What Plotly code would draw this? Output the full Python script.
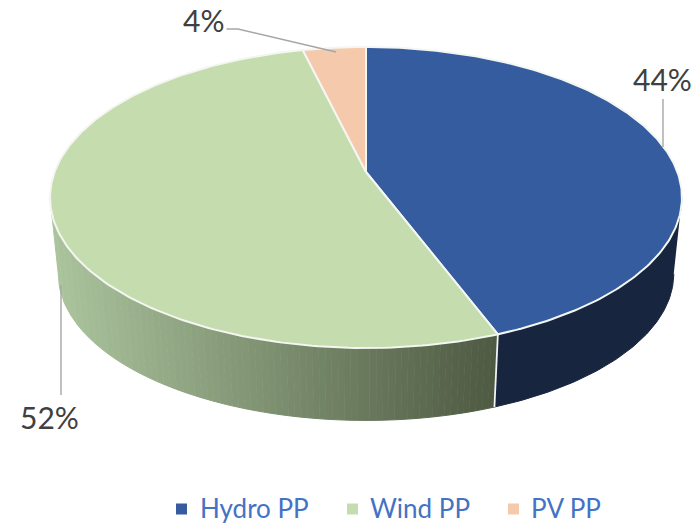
import numpy as np
import plotly.graph_objects as go

categories = ["Hydro PP", "Wind PP", "PV PP"]
shares = [44.2, 52.0, 3.8]
top_colors = ["#355C9F", "#C5DCAF", "#F5C9AC"]
side_hydro = "#17253F"
side_wind_left = np.array([172, 197, 158])
side_wind_right = np.array([78, 90, 66])

# Projection of the tilted disc into pixel space
CX, CY, A, B, K = 366.0, 172.0, 146.2, 311.4, 0.1694
VY, F = 3133.0, 0.974


def project(theta, base=False):
    s, c = np.cos(theta), np.sin(theta)
    d = 1 + K * s
    x, y = CX + B * c / d, CY - A * s / d
    if base:
        x, y = CX + F * (x - CX), VY + F * (y - VY)
    return x, y


fig = go.Figure()


def poly(x, y, fill, line=None, width=1.0):
    fig.add_trace(go.Scatter(
        x=list(x), y=list(y), mode="lines", fill="toself", fillcolor=fill,
        line=dict(color=line or fill, width=width),
        showlegend=False, hoverinfo="skip"))


bounds = np.radians(np.concatenate([[0], np.cumsum(shares)]) * 3.6)
right_ext, left_ext = np.arccos(-K), 2 * np.pi - np.arccos(-K)

# Side wall, hydro part
t = np.linspace(right_ext, bounds[1], 80)
xt, yt = project(t)
xb, yb = project(t, True)
poly(np.r_[xt, xb[::-1]], np.r_[yt, yb[::-1]], side_hydro)

# Side wall, wind part drawn as shaded strips (uniform in screen x)
t = np.linspace(bounds[1], left_ext, 1501)
xs = project(t)[0]
xmin, xmax = xs.min(), xs.max()
order = np.argsort(xs)
edges = np.interp(np.linspace(xmax, xmin, 71), xs[order], t[order])
for a, b in zip(edges[:-1], edges[1:]):
    pair = np.linspace(a, b, 6)
    xt, yt = project(pair)
    xb, yb = project(pair, True)
    u = np.clip((xt.mean() - xmin) / (xmax - xmin), 0, 1)
    rgb = (1 - u) * side_wind_left + u * side_wind_right
    col = "rgb(%d,%d,%d)" % tuple(rgb)
    poly(np.r_[xt, xb[::-1]], np.r_[yt, yb[::-1]], col, width=1.0)

# White seam between the two wall parts
x0, y0 = project(bounds[1])
x1, y1 = project(bounds[1], True)
fig.add_trace(go.Scatter(x=[x0, x1], y=[y0, y1], mode="lines",
                         line=dict(color="#F2F2F2", width=1.8),
                         showlegend=False, hoverinfo="skip"))

# Top faces
for i, col in enumerate(top_colors):
    t = np.linspace(bounds[i], bounds[i + 1], 200)
    x, y = project(t)
    poly(np.r_[CX, x, CX], np.r_[CY, y, CY], col, line="#F4F6F2", width=2.0)

# Leader lines
leaders = [([663, 663], [99, 147]),
           ([61, 61], [285, 395]),
           ([226.5, 238, 336], [29, 29, 52])]
for lx, ly in leaders:
    fig.add_trace(go.Scatter(x=lx, y=ly, mode="lines",
                             line=dict(color="#A6A6A6", width=1.4),
                             showlegend=False, hoverinfo="skip"))

# Legend row
legend_marker_x = [181.5, 352.5, 513.5]
legend_text_x = [198, 368, 529]
legend_y = 508
for name, col, mx, tx in zip(categories, top_colors, legend_marker_x, legend_text_x):
    fig.add_trace(go.Scatter(x=[mx], y=[legend_y + 1], mode="markers", name=name,
                             marker=dict(symbol="square", size=11, color=col),
                             showlegend=False, hoverinfo="name"))
    fig.add_annotation(x=tx, y=legend_y, text=name, showarrow=False, xanchor="left",
                       font=dict(family="Lato", size=26, color="#4472C4"))

label_pos = [(662.5, 79), (49, 417), (203, 20)]
for v, (lx, ly) in zip(shares, label_pos):
    fig.add_annotation(x=lx, y=ly, text="%d%%" % round(v), showarrow=False,
                       font=dict(family="Lato", size=30, color="#404040"))

fig.update_layout(
    width=700, height=527, autosize=False, showlegend=False,
    margin=dict(l=0, r=0, t=0, b=0),
    paper_bgcolor="white", plot_bgcolor="white",
    xaxis=dict(range=[0, 700], visible=False, fixedrange=True),
    yaxis=dict(range=[527, 0], visible=False, fixedrange=True),
)
fig.write_html("out.html", config=dict(displayModeBar=False),
               post_script="document.body.style.margin='0';")
